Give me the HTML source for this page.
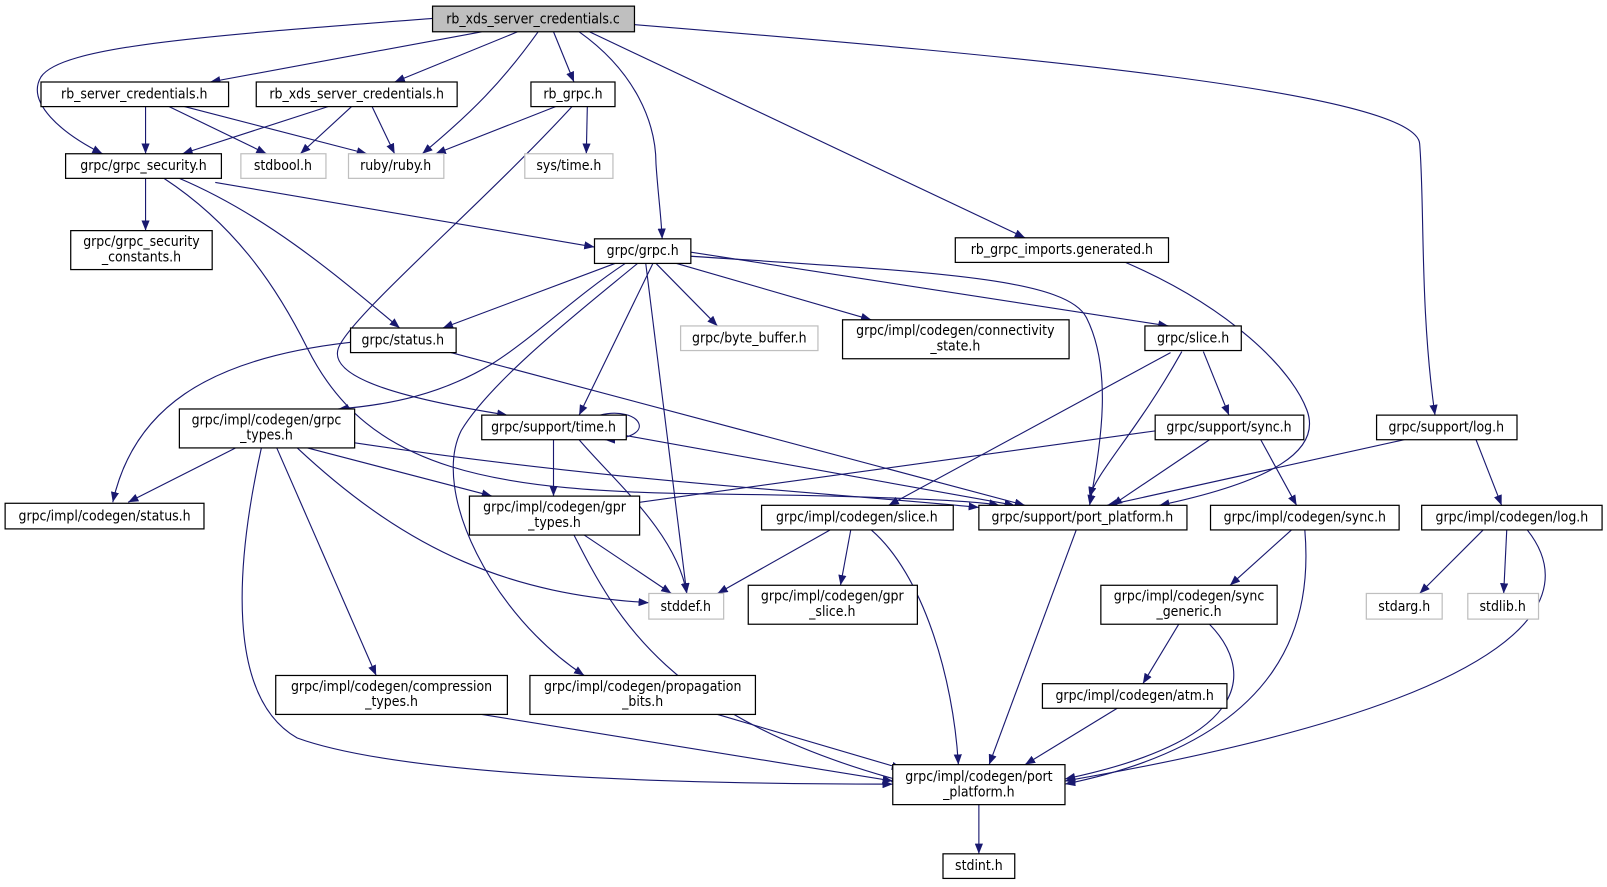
<!DOCTYPE html>
<html><head><meta charset="utf-8"><style>
html,body{margin:0;padding:0;background:#fff}
svg{display:block}
text{font-family:"DejaVu Sans Condensed","DejaVu Sans","Liberation Sans",sans-serif;font-size:13.6px;fill:#000}
</style></head><body>
<svg width="1607" height="887" viewBox="0 0 1607 887" xmlns="http://www.w3.org/2000/svg">
<defs><marker id="a" viewBox="0 0 10 8" refX="10" refY="4" markerWidth="10" markerHeight="8" markerUnits="userSpaceOnUse" orient="auto"><path d="M0,0 L10,4 L0,8 z" fill="#191970"/></marker></defs>
<g transform="scale(1.025)">
<g fill="none" stroke="#191970" stroke-width="1.1" marker-end="url(#a)">
<path d="M422,18 C200,35 60,45 40,75 C25,100 60,130 100,150"/>
<path d="M470,31 L205,80"/>
<path d="M505,31 L385,80"/>
<path d="M525,31 C490,80 460,110 412,150"/>
<path d="M540,31 L560,80"/>
<path d="M565,31 C620,70 640,120 640,160 C642,190 645,210 646,233"/>
<path d="M575,31 L1000,232"/>
<path d="M619,24 C1000,55 1380,90 1385,140 C1390,200 1385,300 1400,405"/>
<path d="M142,104 L142,150"/>
<path d="M165,104 L260,150"/>
<path d="M180,104 L358,150"/>
<path d="M320,104 L178,150"/>
<path d="M343,104 L293,150"/>
<path d="M363,104 L385,150"/>
<path d="M542,104 L425,150"/>
<path d="M573,104 L572,150"/>
<path d="M558,104 C470,200 340,310 330,340 C320,370 400,390 495,405"/>
<path d="M142,174 L142,225"/>
<path d="M210,178 L580,241"/>
<path d="M175,174 C260,210 330,270 390,320"/>
<path d="M160,174 C230,220 270,280 300,340 C360,460 480,480 700,482 C850,484 950,488 975,493"/>
<path d="M600,257 L432,320"/>
<path d="M610,257 C560,290 520,330 480,355 C430,385 380,395 330,399"/>
<path d="M637,257 L565,405"/>
<path d="M630,257 L670,579"/>
<path d="M622,257 C570,300 480,370 450,420 C420,480 480,600 570,659"/>
<path d="M640,257 L700,318"/>
<path d="M660,257 L850,312"/>
<path d="M674,250 C900,265 1040,270 1060,310 C1085,360 1075,430 1063,493"/>
<path d="M674,246 L1140,318"/>
<path d="M1098,256 C1200,300 1260,360 1275,400 C1290,440 1240,470 1131,493"/>
<path d="M1370,429 L1080,493"/>
<path d="M1440,429 L1465,493"/>
<path d="M342,334 C200,350 130,400 110,490"/>
<path d="M440,344 L1000,493"/>
<path d="M230,437 L125,490"/>
<path d="M300,437 L480,484"/>
<path d="M346,432 C600,470 800,480 955,495"/>
<path d="M290,437 C400,540 500,580 633,588"/>
<path d="M270,437 L367,659"/>
<path d="M255,437 C230,550 220,680 290,720 C400,760 700,765 871,765"/>
<path d="M540,429 L540,484"/>
<path d="M565,429 C600,470 660,520 670,579"/>
<path d="M611,425 L990,493"/>
<path d="M585,405 C625,395 645,428 590,429"/>
<path d="M570,522 L655,579"/>
<path d="M560,522 C600,600 650,700 880,762"/>
<path d="M1142,344 L867,493"/>
<path d="M1153,343 C1110,420 1070,460 1063,485"/>
<path d="M1174,343 L1199,405"/>
<path d="M1130,420 L610,492"/>
<path d="M1180,429 L1085,493"/>
<path d="M1230,429 L1265,493"/>
<path d="M810,517 L700,579"/>
<path d="M830,517 L820,571"/>
<path d="M850,517 C900,560 930,660 935,746"/>
<path d="M1050,517 L965,746"/>
<path d="M1260,517 L1200,571"/>
<path d="M1273,517 C1280,600 1260,720 1039,765"/>
<path d="M1150,609 L1115,667"/>
<path d="M1180,609 C1220,650 1230,720 1039,760"/>
<path d="M1090,691 L1000,746"/>
<path d="M1447,517 L1385,579"/>
<path d="M1470,517 L1467,579"/>
<path d="M1490,517 C1540,580 1510,680 1039,762"/>
<path d="M470,697 L871,762"/>
<path d="M700,697 L880,750"/>
<path d="M955,785 L955,833"/>
</g>
<g stroke-width="1.2">
<rect x="422" y="6" width="197" height="25" fill="#bfbfbf" stroke="#000"/>
<rect x="40" y="80" width="183" height="24" fill="#fff" stroke="#000"/>
<rect x="250" y="80" width="196" height="24" fill="#fff" stroke="#000"/>
<rect x="518" y="80" width="82" height="24" fill="#fff" stroke="#000"/>
<rect x="64" y="150" width="152" height="24" fill="#fff" stroke="#000"/>
<rect x="235" y="150" width="83" height="24" fill="#fff" stroke="#bfbfbf"/>
<rect x="340" y="150" width="93" height="24" fill="#fff" stroke="#bfbfbf"/>
<rect x="512" y="150" width="86" height="24" fill="#fff" stroke="#bfbfbf"/>
<rect x="69" y="225" width="138" height="38" fill="#fff" stroke="#000"/>
<rect x="580" y="233" width="94" height="24" fill="#fff" stroke="#000"/>
<rect x="932" y="232" width="208" height="24" fill="#fff" stroke="#000"/>
<rect x="342" y="320" width="103" height="24" fill="#fff" stroke="#000"/>
<rect x="664" y="318" width="134" height="24" fill="#fff" stroke="#bfbfbf"/>
<rect x="822" y="312" width="221" height="38" fill="#fff" stroke="#000"/>
<rect x="1117" y="318" width="94" height="24" fill="#fff" stroke="#000"/>
<rect x="175" y="399" width="171" height="38" fill="#fff" stroke="#000"/>
<rect x="470" y="405" width="141" height="24" fill="#fff" stroke="#000"/>
<rect x="1127" y="405" width="145" height="24" fill="#fff" stroke="#000"/>
<rect x="1343" y="405" width="137" height="24" fill="#fff" stroke="#000"/>
<rect x="5" y="491" width="194" height="25" fill="#fff" stroke="#000"/>
<rect x="458" y="484" width="166" height="38" fill="#fff" stroke="#000"/>
<rect x="743" y="493" width="187" height="24" fill="#fff" stroke="#000"/>
<rect x="955" y="493" width="203" height="24" fill="#fff" stroke="#000"/>
<rect x="1181" y="493" width="184" height="24" fill="#fff" stroke="#000"/>
<rect x="1387" y="493" width="176" height="24" fill="#fff" stroke="#000"/>
<rect x="633" y="579" width="73" height="25" fill="#fff" stroke="#bfbfbf"/>
<rect x="730" y="571" width="165" height="38" fill="#fff" stroke="#000"/>
<rect x="1074" y="571" width="172" height="38" fill="#fff" stroke="#000"/>
<rect x="1333" y="579" width="74" height="25" fill="#fff" stroke="#bfbfbf"/>
<rect x="1432" y="579" width="69" height="25" fill="#fff" stroke="#bfbfbf"/>
<rect x="269" y="659" width="226" height="38" fill="#fff" stroke="#000"/>
<rect x="517" y="659" width="220" height="38" fill="#fff" stroke="#000"/>
<rect x="1017" y="667" width="180" height="24" fill="#fff" stroke="#000"/>
<rect x="871" y="746" width="168" height="39" fill="#fff" stroke="#000"/>
<rect x="920" y="833" width="70" height="24" fill="#fff" stroke="#000"/>
</g>
<g text-anchor="middle">
<text x="520" y="23">rb_xds_server_credentials.c</text>
<text x="131" y="96">rb_server_credentials.h</text>
<text x="348" y="96">rb_xds_server_credentials.h</text>
<text x="559" y="96">rb_grpc.h</text>
<text x="140" y="166">grpc/grpc_security.h</text>
<text x="276" y="166" fill="#999">stdbool.h</text>
<text x="386" y="166" fill="#999">ruby/ruby.h</text>
<text x="555" y="166" fill="#999">sys/time.h</text>
<text x="138" y="240">grpc/grpc_security</text>
<text x="138" y="255">_constants.h</text>
<text x="627" y="249">grpc/grpc.h</text>
<text x="1036" y="248">rb_grpc_imports.generated.h</text>
<text x="393" y="336">grpc/status.h</text>
<text x="731" y="334" fill="#999">grpc/byte_buffer.h</text>
<text x="932" y="327">grpc/impl/codegen/connectivity</text>
<text x="932" y="342">_state.h</text>
<text x="1164" y="334">grpc/slice.h</text>
<text x="260" y="414">grpc/impl/codegen/grpc</text>
<text x="260" y="429">_types.h</text>
<text x="540" y="421">grpc/support/time.h</text>
<text x="1199" y="421">grpc/support/sync.h</text>
<text x="1411" y="421">grpc/support/log.h</text>
<text x="102" y="508">grpc/impl/codegen/status.h</text>
<text x="541" y="499">grpc/impl/codegen/gpr</text>
<text x="541" y="514">_types.h</text>
<text x="836" y="509">grpc/impl/codegen/slice.h</text>
<text x="1056" y="509">grpc/support/port_platform.h</text>
<text x="1273" y="509">grpc/impl/codegen/sync.h</text>
<text x="1475" y="509">grpc/impl/codegen/log.h</text>
<text x="669" y="596" fill="#999">stddef.h</text>
<text x="812" y="586">grpc/impl/codegen/gpr</text>
<text x="812" y="601">_slice.h</text>
<text x="1160" y="586">grpc/impl/codegen/sync</text>
<text x="1160" y="601">_generic.h</text>
<text x="1370" y="596" fill="#999">stdarg.h</text>
<text x="1466" y="596" fill="#999">stdlib.h</text>
<text x="382" y="674">grpc/impl/codegen/compression</text>
<text x="382" y="689">_types.h</text>
<text x="627" y="674">grpc/impl/codegen/propagation</text>
<text x="627" y="689">_bits.h</text>
<text x="1107" y="683">grpc/impl/codegen/atm.h</text>
<text x="955" y="762">grpc/impl/codegen/port</text>
<text x="955" y="777">_platform.h</text>
<text x="955" y="849">stdint.h</text>
</g>
</g>
</svg>
</body></html>
